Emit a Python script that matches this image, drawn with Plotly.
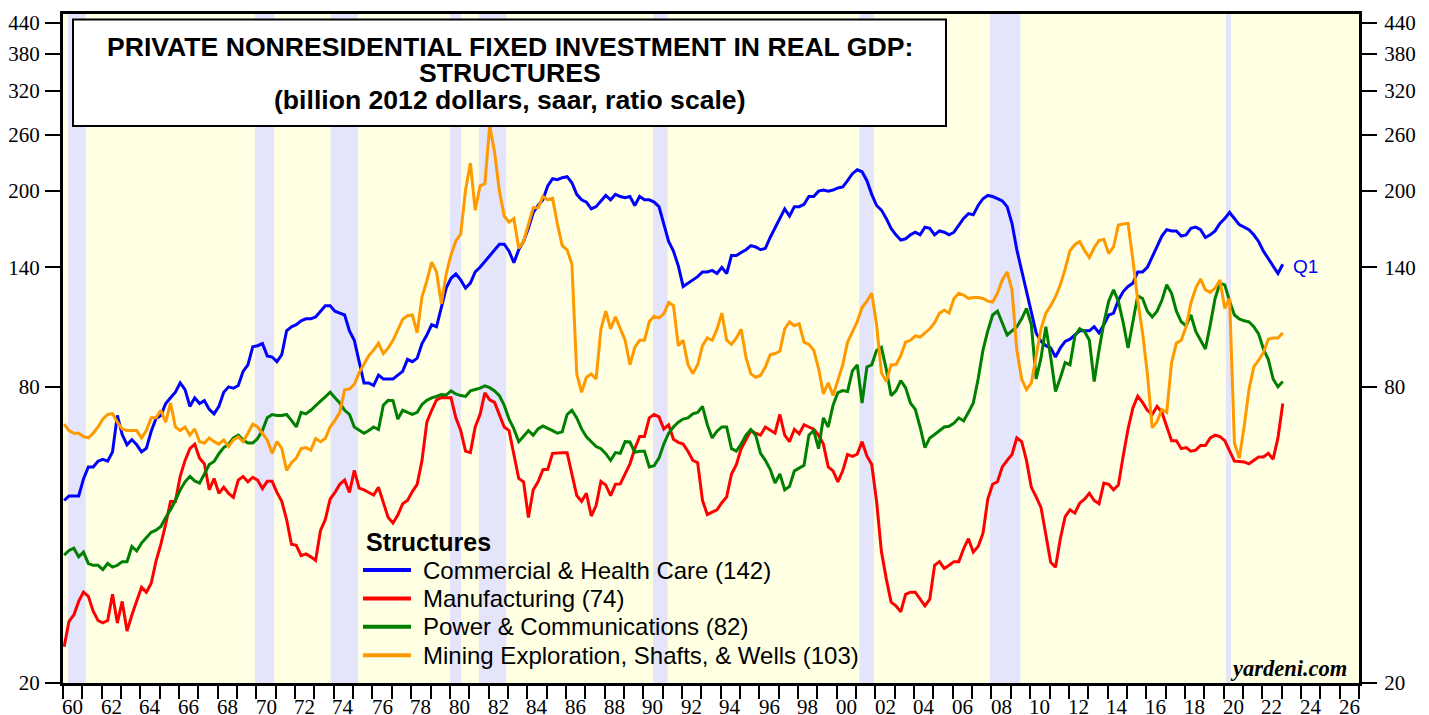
import math
import plotly.graph_objects as go

# ---------------- data (quarterly, 1960Q1 .. 2023Q1, billion 2012 $) ----------------
first_year = 1960
series_names = ["Commercial & Health Care", "Manufacturing",
                "Power & Communications", "Mining Exploration, Shafts, & Wells"]
series_colors = ["#0000ff", "#ff0000", "#008000", "#ff9900"]

commercial = [
    47, 48, 48, 48,  52, 55, 55, 56.5,  57, 56.5, 59, 70,  64, 61, 62.5, 61,
    59, 60, 65, 69,  70, 74, 76, 78,  81.5, 79, 73, 76,  74, 75, 72, 70.5,
    73, 78, 80, 79.5,  80.5, 86, 88.7, 96.5,  97, 98, 92.5, 92,  90, 93, 104, 106,
    107, 109, 110, 110,  111, 114, 117, 117,  114, 113, 112, 104,  99.5, 90, 81.5, 81.5,
    80.5, 84.5, 83, 83,  83, 84.5, 86, 91,  90, 91.5, 98, 102,  107, 106, 115.5, 127,
    133, 135.7, 132, 127,  130, 137, 140, 144,  148, 152, 156, 156,  151, 143, 152, 158,
    168, 181, 187, 192,  205, 212, 211, 213,  214, 208, 197, 192,  190, 184, 186, 191,
    196, 192, 197, 195,  194, 195, 187, 195,  192, 192, 190, 186,  171, 158, 151, 141,
    128, 130, 132, 134,  137, 137, 138, 136,  140, 136, 148, 148,  150, 152, 155, 154,
    152, 153, 161, 168,  176, 184, 178, 186,  186, 188, 195, 195,  200, 201, 200, 201,
    203, 204, 210, 217,  221, 219, 210, 197,  187, 183, 176, 168,  163, 159, 160, 163,
    165, 163, 169, 168,  163, 166, 165, 163,  165, 170, 176, 180,  179, 187, 193, 196,
    195, 193, 191, 186,  172, 152, 138, 125,  112, 103, 99, 97,  96, 92, 96, 99,
    100, 102, 104, 104,  104, 106, 103, 107,  112, 113, 120, 125,  128, 130, 137, 137,
    140, 147, 155, 162,  167, 166, 166, 162,  163, 168, 169, 167,  161, 163, 166, 172,
    176, 181, 176, 171,  169, 167, 163, 158,  151, 146, 141, 136,  142]

manufacturing = [
    23.7, 26.7, 27.5, 29.3,  30.6, 30, 28, 26.8,  26.5, 26.8, 30.3, 26.5,  29.3, 25.5, 27.5, 29.3,
    31.3, 30.6, 31.9, 35.4,  38.3, 42.1, 46.8, 46.8,  52.6, 56.7, 59.9, 61.2,  57.3, 55.8, 49.4, 52.1,
    48.6, 50, 48.6, 47.7,  51.7, 52.6, 51.3, 52.4,  51.7, 49.7, 51.4, 51.4,  48.8, 46.8, 43, 38.3,
    38.1, 36.3, 36.6, 36.1,  35.5, 40.8, 43, 47.3,  48.8, 50.7, 51.7, 48.8,  54.1, 49.8, 49.4, 48.8,
    48.2, 50, 46.3, 43.4,  42.3, 43.9, 46.3, 47,  49, 50.7, 56.7, 67.8,  71.7, 75.3, 76.1, 76,
    76, 69.2, 65.2, 59.2,  58.8, 66.3, 70.3, 77.8,  75.3, 74.4, 70, 66.3,  65.2, 57.9, 52.1, 51.3,
    43.4, 49.4, 51.3, 54.3,  54.4, 58.6, 58.8, 58.8,  58.8, 53.2, 48.1, 46.8,  48.6, 43.7, 45.9, 51.4,
    50.5, 48.1, 50.7, 50.8,  53.2, 55.8, 59.9, 63.4,  63.4, 69.2, 70.3, 69.5,  65.7, 67, 62.6, 61.7,
    61.2, 59.2, 56.7, 56.1,  47, 44, 44.5, 45,  46.5, 47.8, 53.2, 55.6,  59.9, 62.6, 65.2, 64.4,
    63.8, 66.3, 65.2, 64.4,  70.3, 63.8, 61.9, 65.6,  64.2, 67, 66.3, 65.6,  63.8, 61.2, 55, 54,
    51.3, 54, 58.3, 57.8,  58.4, 61.9, 57.9, 55.6,  46.8, 37, 32.6, 29.2,  28.7, 27.9, 30.3, 30.6,
    30.6, 29.6, 28.7, 29.6,  34.7, 35.3, 34.2, 34.7,  35.3, 35.3, 37.5, 39.3,  36.9, 37.9, 40.3, 47.3,
    50.7, 51.3, 55, 56.7,  58.3, 63, 61.9, 56.7,  50, 47.8, 45.5, 40.1,  35.2, 34.4, 39.3, 43.6,
    45, 44.3, 46.4, 47.3,  48.6, 47, 46.3, 51,  50.7, 49.4, 50.5, 57.9,  65.7, 72.5, 76.6, 74.4,
    71.7, 70.3, 73, 71,  66.3, 62.2, 62.2, 59.9,  60.2, 59.2, 59.5, 60.8,  60.8, 63, 63.8, 63.4,
    62.2, 59.2, 56.5, 56.4,  56.3, 55.8, 56.7, 57.6,  57.6, 58.6, 57, 63,  74]

power_comm = [
    36.4, 37.2, 37.6, 36.1,  36.9, 35, 34.7, 34.7,  34, 35, 34.4, 34.7,  35.3, 35.3, 37.9, 37.1,
    38.5, 39.4, 40.5, 40.9,  41.6, 43.4, 45, 47,  49.4, 51.3, 52.6, 51.5,  51, 53.2, 55.6, 56.4,
    58.5, 60.2, 61.2, 63,  63.8, 62.4, 61.5, 61.5,  62.8, 65.2, 69.2, 70.3,  70, 70, 70.3, 68.4,
    66.3, 71, 70.5, 71.7,  73.4, 74.8, 76.3, 78,  76, 74.2, 71.7, 70.3,  66.3, 65.2, 64.4, 65.2,
    66.3, 65.5, 73.4, 75.1,  75, 68.8, 71.7, 71,  70.3, 71, 73.7, 75.1,  76, 76.5, 77.2, 77,
    78.5, 77.4, 76.8, 76.5,  78.5, 79, 79.5, 80.4,  79.7, 78.5, 76.8, 73.4,  68.8, 65.7, 61.9, 63.5,
    65.2, 63.8, 65.7, 66.6,  66, 65.2, 64.4, 64.8,  70.3, 71.7, 69.2, 65.7,  63.3, 61.9, 60.5, 59.9,
    58.5, 56.7, 58.8, 58.6,  61.9, 61.8, 58.9, 59.2,  59.2, 55, 55.3, 57.3,  61.2, 64.4, 66.3, 67.8,
    68.8, 69.2, 70.5, 71,  73, 67, 63, 65,  66.3, 66.3, 59.9, 59.2,  61.2, 63.8, 65.5, 63.8,
    58.6, 56.7, 54.4, 51,  53.2, 49.4, 50.2, 54,  54.8, 55.4, 63.8, 65.2,  59.9, 69.2, 66.3, 73.4,
    77.9, 78.6, 78.3, 86.2,  88.7, 74.2, 87.8, 88.7,  94.9, 96.2, 87, 76.8,  78.5, 82.4, 79.7, 74.2,
    72, 66.3, 60.2, 63,  64, 65.2, 66.3, 66.5,  67.5, 69.2, 68.2, 71,  74.2, 83, 95, 104,
    112, 114, 108, 102,  104, 106, 110, 115.5,  107, 83, 91.6, 106,  92, 78.3, 83.5, 89.6,
    88.7, 101.5, 105, 103.7,  99.5, 82, 95, 108,  119.5, 126, 119.5, 108,  96, 108, 122.5, 121,
    114, 111, 114, 120,  129, 124, 114, 108.5,  106.5, 112, 103.7, 99.5,  95.5, 107, 121, 130,
    129, 119.5, 112, 110,  109, 108.5, 106, 102.5,  95.5, 91, 83, 80,  82]

mining = [
    67.2, 65.2, 64.4, 64.4,  63.4, 63, 64.4, 66.3,  68.8, 70.3, 70.6, 67.8,  65.7, 65.2, 65.2, 65.2,
    63, 65.2, 69.2, 69.2,  71.7, 67.8, 74.2, 66.3,  65.2, 66.3, 63.8, 65.7,  61.9, 61.5, 63, 61.9,
    61.2, 62.4, 60.5, 62.4,  63.3, 61.9, 64.4, 67.2,  66.3, 64.4, 62.4, 58.6,  61.9, 60, 54.1, 56.1,
    57.3, 59.9, 60.2, 59.5,  62.8, 61.9, 62.8, 66.3,  68.4, 71, 78.9, 79.2,  81, 85.5, 88.7, 92.6,
    95, 98.1, 93.5, 95.9,  99.5, 104.8, 109.7, 111.6,  112, 103, 122, 131.4,  143.5, 137, 118, 135.7,
    148.5, 158.4, 163.6, 201,  228, 183, 205, 207,  272, 240, 200, 178,  173, 176, 153, 158,
    170, 185, 185, 195,  192, 193.5, 171.5, 155,  152, 142, 85, 78,  83.7, 85, 83, 104.8,
    114, 105, 111, 104.8,  99.5, 88.7, 96.2, 99.5,  99.5, 108.6, 111.3, 110.5,  112.6, 118.8, 117, 97,
    99.5, 88.7, 85.2, 88.7,  97, 100.6, 99.5, 104.8,  113, 99.5, 97.6, 100.6,  104.8, 91.7, 85, 83.7,
    84.4, 87.8, 93, 93.5,  94.5, 105, 108.4, 106.5,  107.5, 98.6, 97.6, 95,  87.3, 77.4, 81.5, 76.8,
    82.4, 88.7, 98.6, 103.7,  108.6, 116, 119.5, 124,  107, 85.5, 82, 88.7,  88.7, 92.6, 98.6, 99.5,
    101.6, 101, 103, 105,  108, 113, 114.5, 113,  121, 124, 123, 121,  121.5, 121.5, 121, 119.5,
    119, 124, 132, 137,  126, 95, 83, 79,  81.5, 93, 105, 113,  117, 122, 129, 139,
    151.5, 155.6, 158, 151.5,  146.5, 153.4, 158.8, 159.5,  149.3, 154, 170.7, 171.5,  172, 145, 120, 103,
    85, 66, 68, 72,  71, 89.6, 98.2, 99.5,  106, 118.5, 127, 132.6,  126, 124.5, 127, 132,
    115.5, 121, 61.5, 57.3,  66.3, 78.9, 87.8, 90.6,  94, 100, 100.6, 100.6,  103]

series_values = [commercial, manufacturing, power_comm, mining]

# recessions (decimal years)
recession_starts = [1960.25, 1969.92, 1973.83, 1980.0, 1981.5, 1990.5, 2001.17, 2007.92, 2020.12]
recession_ends = [1961.17, 1970.92, 1975.25, 1980.58, 1982.92, 1991.25, 2001.92, 2009.5, 2020.38]

y_ticks = [20, 80, 140, 200, 260, 320, 380, 440]
x_label_years = list(range(1960, 2027, 2))
x_tick_years = list(range(1960, 2028))

title_lines = ["PRIVATE NONRESIDENTIAL FIXED INVESTMENT IN REAL GDP:",
               "STRUCTURES",
               "(billion 2012 dollars, saar, ratio scale)"]
legend_title = "Structures"
last_label = "Q1"
source_text = "yardeni.com"

# ---------------- layout helpers (screen pixels; page adds an 8px body margin) ----------------
OFF = 8
W, H = 1429 - OFF, 715 - OFF
L, R, T, B = 63, 1359, 14, 683          # plot frame in screen pixels
Y440 = 22.7                              # screen y of the 440 tick


def px(x):
    return (x - L) / (R - L)


def py(y):
    return (B - y) / (B - T)


n = len(commercial)
t = [first_year + i * 0.25 + 0.06 for i in range(n)]

fig = go.Figure()
for name, vals, col in zip(series_names, series_values, series_colors):
    fig.add_trace(go.Scatter(x=t, y=vals, mode="lines", name=name,
                             line=dict(color=col, width=3), showlegend=False,
                             hoverinfo="skip"))

# invisible trace on right axis so it renders
fig.add_trace(go.Scatter(x=[t[0]], y=[commercial[0]], yaxis="y2", mode="markers",
                         marker=dict(opacity=0), showlegend=False, hoverinfo="skip"))

shapes = []
for s, e in zip(recession_starts, recession_ends):
    shapes.append(dict(type="rect", xref="x", yref="paper", x0=s, x1=e, y0=0, y1=1,
                       fillcolor="#e4e4fa", line=dict(width=0), layer="below"))

# title box
shapes.append(dict(type="rect", xref="paper", yref="paper",
                   x0=px(73), x1=px(946), y0=py(126), y1=py(19.5),
                   fillcolor="white", line=dict(color="black", width=2), layer="above"))

sans = "Liberation Sans, Arial"
serif = "Liberation Serif, Times New Roman"

annotations = []
for line, yy in zip(title_lines, [47.5, 72.5, 100]):
    annotations.append(dict(text="<b>" + line + "</b>", x=px(510), y=py(yy),
                            xref="paper", yref="paper", xanchor="center", yanchor="middle",
                            showarrow=False, font=dict(family=sans, size=26.6, color="black")))

# legend (manual)
annotations.append(dict(text="<b>" + legend_title + "</b>", x=px(364), y=py(541.5),
                        xref="paper", yref="paper", xanchor="left", yanchor="middle",
                        showarrow=False, font=dict(family=sans, size=25, color="black")))
for k, (name, vals, col) in enumerate(zip(series_names, series_values, series_colors)):
    yy = 570 + k * 28.4
    shapes.append(dict(type="line", xref="paper", yref="paper",
                       x0=px(363), x1=px(411), y0=py(yy), y1=py(yy),
                       line=dict(color=col, width=4), layer="above"))
    annotations.append(dict(text=f"{name} ({vals[-1]:.0f})", x=px(421), y=py(yy),
                            xref="paper", yref="paper", xanchor="left", yanchor="middle",
                            showarrow=False, font=dict(family=sans, size=24, color="black")))

# last-quarter label
annotations.append(dict(text=last_label, x=px(1291), y=py(266), xref="paper", yref="paper",
                        xanchor="left", yanchor="middle", showarrow=False,
                        font=dict(family=sans, size=19, color="#0000ff")))

# source
annotations.append(dict(text="<b><i>" + source_text + "</i></b>", x=px(1349), y=py(668),
                        xref="paper", yref="paper", xanchor="right", yanchor="middle",
                        showarrow=False, font=dict(family=serif, size=22.5, color="black")))

# x tick labels centred in the year
for yr in x_label_years:
    annotations.append(dict(text=f"{yr % 100:02d}", x=yr + 0.5, y=0, xref="x", yref="paper",
                            xanchor="center", yanchor="top", yshift=-10, showarrow=False,
                            font=dict(family=serif, size=21, color="black")))

ppl = (B - Y440) / (math.log10(440) - math.log10(20))
yr_lo = math.log10(20)
yr_hi = math.log10(440) + (Y440 - T) / ppl

tickfont = dict(family=serif, size=21, color="black")

fig.update_layout(
    width=W, height=H, autosize=False,
    margin=dict(l=L - OFF, r=W - (R - OFF), t=T - OFF, b=H - (B - OFF), pad=0,
                autoexpand=False),
    paper_bgcolor="white", plot_bgcolor="#ffffe4",
    shapes=shapes, annotations=annotations, showlegend=False,
    xaxis=dict(range=[1960, 2027], tickmode="array", tickvals=x_tick_years,
               showticklabels=False, ticks="outside", ticklen=13, tickwidth=2,
               tickcolor="black", showgrid=False, zeroline=False, automargin=False,
               showline=True, linecolor="black", linewidth=3, mirror=True),
    yaxis=dict(type="log", range=[yr_lo, yr_hi], tickmode="array", tickvals=y_ticks,
               ticktext=[str(v) for v in y_ticks], ticks="outside", ticklen=15,
               tickwidth=1.5, tickcolor="black", tickfont=tickfont, showgrid=False,
               automargin=False, ticklabelstandoff=1,
               zeroline=False, showline=True, linecolor="black", linewidth=3, mirror=True),
    yaxis2=dict(type="log", range=[yr_lo, yr_hi], overlaying="y", side="right",
                tickmode="array", tickvals=y_ticks, ticktext=[str(v) for v in y_ticks],
                ticks="outside", ticklen=15, tickwidth=1.5, tickcolor="black",
                tickfont=tickfont, showgrid=False, zeroline=False, showline=True,
                automargin=False, ticklabelstandoff=3,
                linecolor="black", linewidth=3),
)

fig.write_html("out.html")
